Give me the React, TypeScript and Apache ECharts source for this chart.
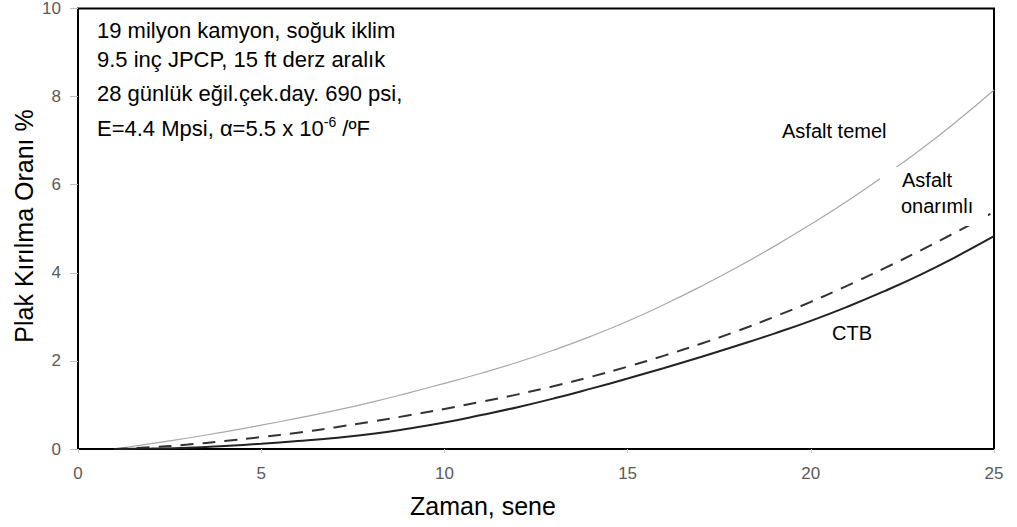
import React, { useEffect, useRef } from "react";
import * as echarts from "echarts";

const years = [1, 2, 3, 4, 5, 6, 7, 8, 9, 10, 11, 12, 13, 14, 15, 16, 17, 18, 19, 20, 21, 22, 23, 24, 25];
const asfaltTemel = [0, 0.12, 0.25, 0.39, 0.54, 0.7, 0.87, 1.06, 1.27, 1.49, 1.72, 1.97, 2.25, 2.56, 2.9, 3.28, 3.69, 4.13, 4.6, 5.1, 5.63, 6.2, 6.8, 7.45, 8.15];
const asfaltOnarimli = [0, 0.04, 0.1, 0.18, 0.27, 0.37, 0.49, 0.62, 0.76, 0.91, 1.07, 1.24, 1.43, 1.64, 1.87, 2.12, 2.39, 2.68, 3.0, 3.34, 3.71, 4.1, 4.51, 4.94, 5.38];
const ctb = [0, 0.01, 0.03, 0.07, 0.12, 0.18, 0.25, 0.34, 0.46, 0.6, 0.77, 0.95, 1.15, 1.37, 1.6, 1.84, 2.09, 2.35, 2.62, 2.91, 3.23, 3.58, 3.96, 4.38, 4.83];

const xTitle = "Zaman, sene";
const yTitle = "Plak Kırılma Oranı %";
const noteLines = [
  "19 milyon kamyon, soğuk iklim",
  "9.5 inç JPCP, 15 ft derz aralık",
  "28 günlük eğil.çek.day. 690 psi,",
];
const FONT = "Liberation Sans, Arial, sans-serif";

export default function App() {
  const ref = useRef<HTMLDivElement>(null);
  useEffect(() => {
    const chart = echarts.init(ref.current!, null, { renderer: "svg" });
    const pair = (arr: number[]) => years.map((x, i) => [x, arr[i]]);
    chart.setOption({
      animation: false,
      backgroundColor: "#ffffff",
      textStyle: { fontFamily: FONT },
      grid: { left: 78, right: 23, top: 6, bottom: 78, show: true, borderColor: "#000", borderWidth: 2, backgroundColor: "transparent" },
      xAxis: {
        type: "value", min: 0, max: 25, interval: 5,
        axisLine: { show: false },
        axisTick: { show: true, length: 4, lineStyle: { color: "#ccc" } },
        axisLabel: { color: "#5a5a5a", fontSize: 17, margin: 16, fontFamily: FONT },
        splitLine: { show: false },
      },
      yAxis: {
        type: "value", min: 0, max: 10, interval: 2,
        axisLine: { show: false },
        axisTick: { show: true, length: 8, lineStyle: { color: "#bbb" } },
        axisLabel: { color: "#5a5a5a", fontSize: 17, margin: 17, fontFamily: FONT },
        splitLine: { show: false },
      },
      series: [
        { type: "line", data: pair(asfaltTemel), smooth: true, symbol: "none", lineStyle: { color: "#a8a8a8", width: 1.2 } },
        { type: "line", data: pair(asfaltOnarimli), smooth: true, symbol: "none", lineStyle: { color: "#333", width: 2, type: [13, 9] } },
        { type: "line", data: pair(ctb), smooth: true, symbol: "none", lineStyle: { color: "#222", width: 2 } },
      ],
      graphic: [
        { type: "rect", z: 100, shape: { x: 880, y: 167, width: 108, height: 59 }, style: { fill: "#fff" } },
        ...noteLines.map((t, i) => ({
          type: "text", z: 101, left: 97, top: [19, 48, 82][i],
          style: { text: t, fontSize: 22, fill: "#000", fontFamily: FONT },
        })),
        {
          type: "text", z: 101, left: 97, top: 115,
          style: {
            text: "E=4.4 Mpsi, α=5.5 x 10{sup|-6} /ºF",
            fontSize: 22, fill: "#000", fontFamily: FONT,
            rich: { sup: { fontSize: 14, verticalAlign: "top", padding: [0, 0, 12, 0], fontFamily: FONT, fill: "#000" } },
          },
        },
        { type: "text", z: 101, left: 782, top: 121, style: { text: "Asfalt temel", fontSize: 20, fill: "#000", fontFamily: FONT } },
        { type: "text", z: 101, left: 902, top: 170, style: { text: "Asfalt", fontSize: 20, fill: "#000", fontFamily: FONT } },
        { type: "text", z: 101, left: 901, top: 196, style: { text: "onarımlı", fontSize: 20, fill: "#000", fontFamily: FONT } },
        { type: "text", z: 101, left: 832, top: 323, style: { text: "CTB", fontSize: 20, fill: "#000", fontFamily: FONT } },
        { type: "text", z: 101, left: 410, top: 493, style: { text: xTitle, fontSize: 25, fill: "#000", fontFamily: FONT } },
        {
          type: "text", z: 101, x: 24, y: 226, rotation: Math.PI / 2,
          style: { text: yTitle, fontSize: 25, fill: "#000", fontFamily: FONT, align: "center", verticalAlign: "middle" },
        },
      ],
    });
    return () => chart.dispose();
  }, []);
  return <div ref={ref} style={{ position: "fixed", left: 0, top: 0, width: 1017, height: 527 }} />;
}
